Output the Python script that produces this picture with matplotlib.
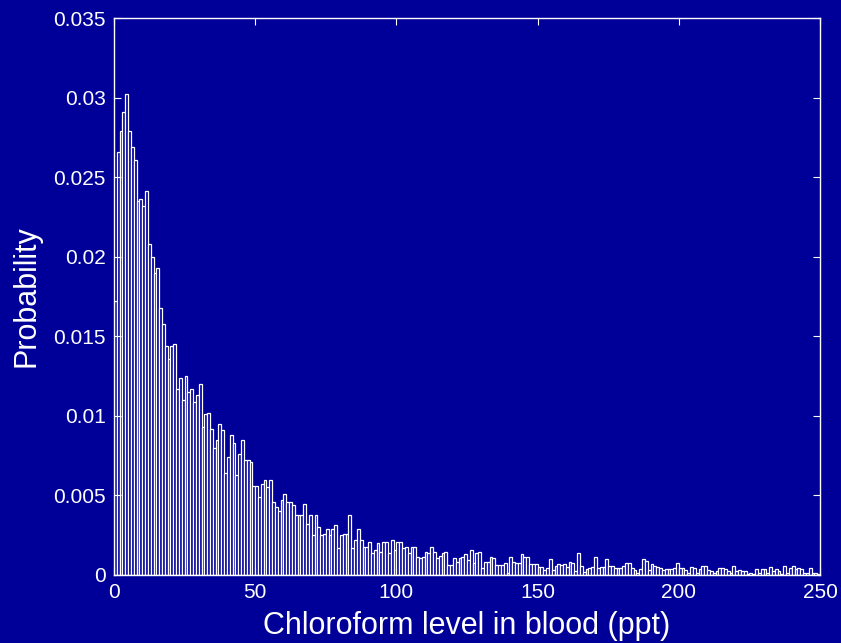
import numpy as np
import matplotlib
matplotlib.use("Agg")
import matplotlib.pyplot as plt

# probability per 1 ppt bin (bins 0..249)
prob_0_30 = [0.0172, 0.0266, 0.0279, 0.0291, 0.0302, 0.0279, 0.0269, 0.0261,
             0.0235, 0.0236, 0.0232, 0.0241, 0.0208, 0.0200, 0.0190, 0.0193,
             0.0168, 0.0158, 0.0144, 0.0136, 0.0144, 0.0145, 0.0117, 0.0124,
             0.0110, 0.0125, 0.0115, 0.0117, 0.0109, 0.0113, 0.0120]
prob_31_64 = [0.0093, 0.0101, 0.0102, 0.0092, 0.0080, 0.0085, 0.0095, 0.0091,
              0.0064, 0.0074, 0.0088, 0.0083, 0.0063, 0.0076, 0.0085, 0.0072,
              0.0072, 0.0071, 0.0056, 0.0056, 0.0049, 0.0057, 0.0060, 0.0055,
              0.0060, 0.0046, 0.0043, 0.0040, 0.0047, 0.0051, 0.0046, 0.0046,
              0.0044, 0.0038]
prob_65_146 = [0.0038, 0.00375, 0.00446, 0.00323, 0.00375, 0.00249, 0.00375,
               0.00302, 0.00249, 0.0026, 0.00291, 0.00249, 0.00291, 0.00312,
               0.00168, 0.00249, 0.0026, 0.0026, 0.00375, 0.00168, 0.0022,
               0.00291, 0.0022, 0.00178, 0.00178, 0.0021, 0.00136, 0.00157,
               0.00199, 0.00147, 0.0021, 0.0021, 0.00136, 0.0022, 0.00157,
               0.0021, 0.0021, 0.00168, 0.00178, 0.00136, 0.00178, 0.00178,
               0.00115, 0.00105, 0.00115, 0.00147, 0.00136, 0.00178, 0.00147,
               0.00105, 0.0012, 0.00136, 0.00147, 0.00063, 0.00063, 0.00105,
               0.0008, 0.00105, 0.00115, 0.0013, 0.00094, 0.00157, 0.00078,
               0.00136, 0.00147, 0.00046, 0.00084, 0.00084, 0.00115, 0.00105,
               0.00063, 0.00063, 0.00063, 0.00073, 0.00015, 0.00115, 0.00084,
               0.00078, 0.00078, 0.0013, 0.00115, 0.00115]
prob_147_249 = [0.00067, 0.00067, 0.00067, 0.00052, 0.00052, 0.00031, 0.00046,
                0.00099, 0.00031, 0.00057, 0.00067, 0.00063, 0.00067, 0.00052,
                0.00084, 0.00073, 0.00025, 0.00136, 0.00057, 0.00021, 0.00036,
                0.00046, 0.00052, 0.00115, 0.00042, 0.00052, 0.00052, 0.00099,
                0.00057, 0.00057, 0.00046, 0.00046, 0.00042, 0.00057, 0.00073,
                0.00078, 0.00046, 0.00031, 0.00015, 0.00036, 0.00099, 0.00088,
                0.00031, 0.00067, 0.00057, 0.00048, 0.00042, 0.00031, 0.00036,
                0.00036, 0.00036, 0.00046, 0.00078, 0.00046, 0.00046, 0.00031,
                0.00015, 0.00052, 0.00046, 0.00015, 0.00036, 0.00057, 0.00057,
                0.00031, 0.00025, 0.00015, 0.00025, 0.00046, 0.00046, 0.00036,
                0.00025, 0.00015, 0.00057, 0.00025, 0.00031, 0.00025, 0.00025,
                0.00004, 0.00015, 0.00004, 0.00036, 0.00015, 0.00036, 0.00036,
                0.00015, 0.00052, 0.00025, 0.00036, 0.00025, 0.00004, 0.00057,
                0.00015, 0.00046, 0.00057, 0.00036, 0.00046, 0.00036, 0.00015,
                0.00015, 0.00046, 0.00015, 0.00015, 0.00004]

prob = np.array(prob_0_30 + prob_31_64 + prob_65_146 + prob_147_249)
edges = np.arange(len(prob) + 1)  # 1 ppt bins

xticks = [0, 50, 100, 150, 200, 250]
yticks = [0, 0.005, 0.01, 0.015, 0.02, 0.025, 0.03, 0.035]
ytick_labels = ["0", "0.005", "0.01", "0.015", "0.02", "0.025", "0.03", "0.035"]

navy = "#000099"
plt.rcParams["font.family"] = ["Liberation Sans", "DejaVu Sans"]

fig = plt.figure(figsize=(8.41, 6.43), dpi=100, facecolor=navy)
ax = fig.add_axes([114 / 841, 68 / 643, 706 / 841, 557 / 643], facecolor=navy)

ax.bar(edges[:-1], prob, width=1.0, align="edge", facecolor=navy,
       edgecolor="white", linewidth=0.9)

ax.set_xlim(0, 250)
ax.set_ylim(0, 0.035)
ax.set_xticks(xticks)
ax.set_yticks(yticks)
ax.set_yticklabels(ytick_labels)

for side in ax.spines.values():
    side.set_color("white")
    side.set_linewidth(1.0)
ax.tick_params(colors="white", labelcolor="white", direction="in", length=5,
               top=True, right=True, labelsize=15, pad=6)

ax.set_xlabel("Chloroform level in blood (ppt)", color="white", fontsize=22,
              labelpad=6)
ax.set_ylabel("Probability", color="white", fontsize=22, labelpad=8)

fig.savefig("out.png", dpi=100, facecolor=navy)
